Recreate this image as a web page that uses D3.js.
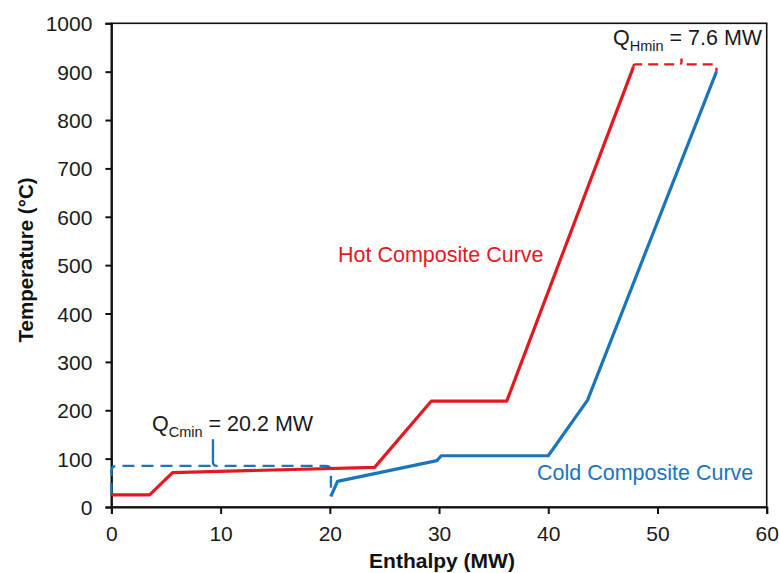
<!DOCTYPE html>
<html>
<head>
<meta charset="utf-8">
<script src="https://cdn.jsdelivr.net/npm/d3@7"></script>
<style>
  body { margin: 0; background: #fff; }
  text { font-family: "Liberation Sans", Arial, sans-serif; }
</style>
</head>
<body>
<div id="chart"></div>
<script>
// hot composite curve (enthalpy MW, temperature °C)
const hotH = [0, 3.5, 5.6, 24.1, 29.3, 36.2, 47.8];
const hotT = [25, 25, 71, 82, 219, 219, 910];
// cold composite curve
const coldH = [20.1, 20.7, 29.8, 30.2, 40.0, 43.6, 55.4];
const coldT = [22, 53, 96, 106, 106, 221, 900];

const xTicks = [0, 10, 20, 30, 40, 50, 60];
const yTicks = [0, 100, 200, 300, 400, 500, 600, 700, 800, 900, 1000];

// brackets: [startH, startT, endH, endT, levelT, tipH, tipT]
const qCmin = [0, 25, 20.1, 22, 85, 9.3, 140];
const qHmin = [47.8, 910, 55.4, 900, 915, 52.2, 927];

const red = "#e3191f", blue = "#1a75bb";

const W = 779, H = 573;
const margin = {top: 23.3, right: 12.3, bottom: 66, left: 111.4};
const width = W - margin.left - margin.right;
const height = H - margin.top - margin.bottom;

const svg = d3.select("#chart").append("svg")
    .attr("width", W)
    .attr("height", H);

const g = svg.append("g")
    .attr("transform", "translate(" + margin.left + "," + margin.top + ")");

const x = d3.scaleLinear().domain([0, 60]).range([0, width]);
const y = d3.scaleLinear().domain([0, 1000]).range([height, 0]);

// frame
g.append("rect")
    .attr("width", width)
    .attr("height", height)
    .attr("fill", "none")
    .attr("stroke", "#111")
    .attr("stroke-width", 1.6);

const xAxis = g.append("g")
    .attr("transform", "translate(0," + height + ")")
    .call(d3.axisBottom(x).tickValues(xTicks).tickFormat(d3.format("d")).tickSize(7).tickPadding(8));
const yAxis = g.append("g")
    .call(d3.axisLeft(y).tickValues(yTicks).tickFormat(d3.format("d")).tickSize(6).tickPadding(13));

[xAxis, yAxis].forEach(a => {
    a.select(".domain").attr("stroke", "#111").attr("stroke-width", 2);
    a.selectAll(".tick line").attr("stroke", "#111").attr("stroke-width", 2);
    a.selectAll(".tick text")
        .attr("fill", "#1a1a1a")
        .style("font-size", "21px")
        .style("font-family", '"Liberation Sans", Arial, sans-serif');
});
xAxis.selectAll(".tick text").attr("dy", "0.9em");
yAxis.selectAll(".tick text").attr("dy", "0.36em");

// curly brackets drawn through the scales
function bracePath(b, r, tipR) {
    const x0 = x(b[0]), y0 = y(b[1]), x1 = x(b[2]), y1 = y(b[3]);
    const yl = y(b[4]), xt = x(b[5]), yt = y(b[6]);
    return "M" + x0 + "," + y0
        + "L" + x0 + "," + (yl + r)
        + "Q" + x0 + "," + yl + " " + (x0 + r) + "," + yl
        + "L" + (xt - tipR) + "," + yl
        + "Q" + xt + "," + yl + " " + xt + "," + (yl - tipR)
        + "L" + xt + "," + yt
        + "L" + xt + "," + (yl - tipR)
        + "Q" + xt + "," + yl + " " + (xt + tipR) + "," + yl
        + "L" + (x1 - r) + "," + yl
        + "Q" + x1 + "," + yl + " " + x1 + "," + (yl + r)
        + "L" + x1 + "," + y1;
}

g.append("path")
    .attr("d", bracePath(qCmin, 5, 4))
    .attr("fill", "none")
    .attr("stroke", blue)
    .attr("stroke-width", 2.4)
    .attr("stroke-dasharray", "12,7");

g.append("path")
    .attr("d", bracePath(qHmin, 2, 2.5))
    .attr("fill", "none")
    .attr("stroke", red)
    .attr("stroke-width", 2.4)
    .attr("stroke-dasharray", "10,6");

const line = d3.line()
    .x(d => x(d[0]))
    .y(d => y(d[1]));

g.append("path")
    .datum(hotH.map((h, i) => [h, hotT[i]]))
    .attr("d", line)
    .attr("fill", "none")
    .attr("stroke", red)
    .attr("stroke-width", 3.2)
    .attr("stroke-linejoin", "round");

g.append("path")
    .datum(coldH.map((h, i) => [h, coldT[i]]))
    .attr("d", line)
    .attr("fill", "none")
    .attr("stroke", blue)
    .attr("stroke-width", 3.2)
    .attr("stroke-linejoin", "round");

// curve labels
svg.append("text")
    .attr("x", 338).attr("y", 262)
    .attr("fill", red)
    .style("font-size", "21.5px")
    .text("Hot Composite Curve");

svg.append("text")
    .attr("x", 537).attr("y", 480)
    .attr("fill", blue)
    .style("font-size", "21.5px")
    .text("Cold Composite Curve");

function qLabel(px, py, sub, rest) {
    const t = svg.append("text")
        .attr("x", px).attr("y", py)
        .attr("fill", "#1a1a1a")
        .style("font-size", "21.5px");
    t.append("tspan").text("Q");
    t.append("tspan").attr("dy", 6).style("font-size", "14.5px").text(sub);
    t.append("tspan").attr("dy", -6).text(" " + rest);
}
qLabel(152, 431, "Cmin", "= 20.2 MW");
qLabel(613, 45, "Hmin", "= 7.6 MW");

// axis titles
svg.append("text")
    .attr("x", 442).attr("y", 568)
    .attr("text-anchor", "middle")
    .attr("fill", "#111")
    .style("font-size", "21px")
    .style("font-weight", "bold")
    .text("Enthalpy (MW)");

svg.append("text")
    .attr("transform", "translate(33,260) rotate(-90)")
    .attr("text-anchor", "middle")
    .attr("fill", "#111")
    .style("font-size", "20.5px")
    .style("font-weight", "bold")
    .text("Temperature (°C)");
</script>
</body>
</html>
